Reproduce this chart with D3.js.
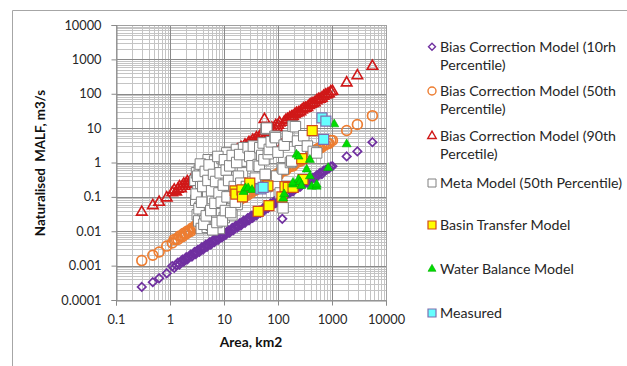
<!DOCTYPE html>
<html><head><meta charset="utf-8">
<script src="https://cdn.jsdelivr.net/npm/d3@7"></script>
<style>body{margin:0;background:#fff}svg{display:block;font-family:Lato,"Open Sans",sans-serif}</style>
</head><body><svg id="c" width="627" height="366"></svg>
<script>
// ---- data ----
const areas = [0.30,0.48,0.63,0.87,
  1.1,1.2,1.3,1.4,1.5,1.6,1.7,1.8,1.9,2.0,
  2.1,2.25,2.4,2.55,2.7,2.85,3.0,3.15,3.3,3.5,
  3.7,3.9,4.1,4.35,4.6,4.85,5.1,5.4,5.7,6.0,
  6.3,6.65,7.0,7.4,7.8,8.25,8.7,9.2,9.7,10.2,
  10.8,11.4,12.0,12.7,13.4,14.2,15.0,15.8,16.7,17.6,
  18.6,19.6,20.7,21.8,23,24.5,26,27.5,29,30.5,
  32,34,36,38,40,42.5,45,47.5,50,53,
  56,59,62,65.5,69,73,77,81,86,91,
  96,101,107,
  120,130,140,150,165,178,190,205,220,240,
  260,280,300,325,350,380,410,445,480,520,
  560,600,650,700,760,820,880,950,1020,
  1870,2950,5600];
const bias10 = [0.00024,0.00033,0.00043,0.00060,
  0.00097,0.00086,0.00104,0.00123,0.00108,0.00128,0.0015,0.0013,0.00152,0.00176,
  0.00151,0.0018,0.0021,0.00184,0.00216,0.0025,0.00216,0.00252,0.0029,0.0025,
  0.003,0.00343,0.00295,0.00348,0.00405,0.0035,0.0041,0.00475,0.0041,0.0048,
  0.00554,0.0048,0.0056,0.0065,0.0056,0.0066,0.0077,0.0066,0.0078,0.009,
  0.0078,0.0091,0.0106,0.0091,0.0107,0.0125,0.0108,0.0126,0.0147,0.0127,
  0.0149,0.0172,0.0149,0.0174,0.0202,0.0176,0.0208,0.0242,0.0209,0.0244,
  0.0282,0.0245,0.0288,0.0334,0.0288,0.034,0.0396,0.0342,0.04,0.0466,
  0.0403,0.0472,0.0546,0.0472,0.0552,0.0642,0.0554,0.0648,0.0757,0.0655,
  0.0768,0.0889,0.077,
  0.023,0.1,0.115,0.125,0.13,0.15,0.145,0.17,0.18,0.19,
  0.2,0.23,0.25,0.26,0.26,0.31,0.32,0.36,0.36,0.42,
  0.42,0.5,0.46,0.58,0.6,0.64,0.68,0.76,0.78,
  1.5,2.1,3.9];
const bias50 = [0.0014,0.0020,0.0025,0.0037,
  0.00455,0.0058,0.00585,0.0058,0.0073,0.0072,0.0070,0.00875,0.00855,0.0083,
  0.0102,0.0101,0.0099,0.0124,0.0122,0.0118,0.0146,0.0142,0.0137,0.017,
  0.0167,0.0161,0.0199,0.0196,0.019,0.0235,0.023,0.0224,0.0277,0.027,
  0.0261,0.0323,0.0315,0.0306,0.0379,0.0371,0.036,0.0447,0.0437,0.0422,
  0.0525,0.0513,0.0497,0.0617,0.0603,0.0588,0.0729,0.0711,0.0691,0.0855,
  0.0837,0.0811,0.1006,0.0981,0.0952,0.119,0.117,0.114,0.141,0.137,
  0.132,0.165,0.162,0.157,0.194,0.191,0.186,0.231,0.225,0.219,
  0.272,0.2655,0.257,0.319,0.31,0.302,0.374,0.364,0.356,0.443,
  0.432,0.418,0.52,
  0.56,0.6,0.6,0.7,0.78,0.78,0.8,0.95,1.0,1.05,
  1.1,1.3,1.4,1.45,1.5,1.75,1.9,1.95,2.0,2.4,
  2.6,2.6,2.8,3.2,3.3,3.6,3.6,4.4,4.4,
  8.5,12.7,23];
const bias90 = [0.036,0.056,0.070,0.094,
  0.132,0.158,0.14,0.168,0.198,0.173,0.204,0.238,0.205,0.24,
  0.277,0.243,0.288,0.337,0.292,0.342,0.396,0.34,0.396,0.462,
  0.4,0.468,0.541,0.47,0.552,0.64,0.551,0.648,0.752,0.648,
  0.756,0.878,0.756,0.888,1.03,0.891,1.044,1.214,1.048,1.224,
  1.426,1.231,1.44,1.676,1.447,1.704,1.98,1.706,2.004,2.323,
  2.009,2.352,2.732,2.354,2.76,3.234,2.808,3.3,3.828,3.294,
  3.84,4.488,3.888,4.56,5.28,4.59,5.4,6.27,5.4,6.36,
  18,6.37,7.44,8.65,7.45,8.76,10.16,8.75,10.32,12.0,
  10.37,12.12,14.1,
  3.3,15,17,18,20,21,22,25,27,28,
  30,34,37,38,40,46,50,52,55,63,
  68,70,75,85,92,96,100,115,118,
  208,336,630];
const metaArea = [2.9,3.0,3.1,3.2,3.3,3.4,3.5,3.6,3.7,3.8,3.9,4.0,4.1,4.2,4.3,4.4,4.5,4.6,4.8,4.9,
  5.0,5.1,5.2,5.4,5.5,5.6,5.8,6.0,6.1,6.3,6.5,6.7,6.9,7.1,7.3,7.5,7.8,8.0,8.2,8.4,
  8.7,9.0,9.2,9.5,9.8,10.1,10.4,10.8,11.2,11.6,12.0,12.5,13.0,13.5,14.0,14.5,15.0,16.0,16.5,17.0,
  17.5,18.0,19.0,20.0,21,22,23,
  3.05,3.25,3.45,3.65,3.85,4.05,4.25,4.5,4.7,5.05,5.3,5.7,5.9,6.2,6.4,6.8,7.0,7.4,7.7,8.1,
  8.5,8.9,9.3,9.7,10.2,10.6,11.0,11.4,12.2,12.8,13.3,14.2,15.5,16.2,17.2,18.5,19.5,20.5,
  26,28,30,33,35,38,43,45,46,50,53,55,58,60,62,62,66,69,75,88,
  88,90,94,100,110,120,124,125,130,150,170,180,190,210,230,260,300,350,450,520];
const metaValue = [0.3,0.08,0.5,0.03,0.15,0.02,0.6,0.05,0.25,0.012,0.1,0.4,0.04,0.7,0.18,0.02,0.07,0.35,0.9,0.013,
  0.12,1.2,0.03,0.5,0.22,0.06,0.015,0.8,0.09,0.3,0.035,1.1,0.15,0.02,0.55,0.06,0.25,1.0,0.012,0.11,
  0.4,0.04,1.3,0.18,0.7,0.025,0.08,0.35,1.9,0.14,0.05,0.6,0.22,1.0,0.03,0.09,0.45,1.4,0.16,2.4,
  0.06,0.75,0.3,0.12,1.1,0.5,2.7,
  0.12,0.4,0.045,0.9,0.07,0.2,0.016,0.55,0.028,0.3,0.85,0.04,0.15,0.011,0.45,0.065,0.28,0.018,1.5,0.13,
  0.5,0.07,0.02,0.22,1.2,0.04,0.6,0.1,0.3,0.8,0.035,1.6,0.2,0.07,1.0,0.4,1.7,0.25,
  0.2,2.7,1.5,0.8,3.0,0.35,0.87,0.78,2.7,1.6,3.7,1.2,0.45,9.5,0.2,10,1.8,2.4,4.0,5.8,
  0.23,5.3,0.4,2.0,0.13,0.7,0.048,0.65,3.2,5.8,1.0,1.1,11.4,11,4.2,2.2,6.0,3.0,2.1,1.9];
const basinArea = [16,16.6,21.5,22,30,43,65,68,118,135,155,190,275,290,430];
const basinValue = [0.15,0.12,0.16,0.10,0.25,0.038,0.21,0.056,0.10,0.2,0.19,0.19,1.3,0.32,8.5];
const waterArea = [23,25,28,33,125,130,190,190,220,240,240,255,270,340,390,390,420,520,520,850,1100,1870];
const waterValue = [0.14,0.18,0.18,0.16,0.09,0.12,0.23,0.26,1.7,1.5,0.32,0.27,0.21,0.63,1.2,0.4,0.2,0.2,0.23,0.7,13,3.4];
const measArea = [48,53,650,770,700];
const measValue = [0.17,0.19,20,16,4.7];

const xTicks = [0.1,1,10,100,1000,10000];
const xTickLabels = ["0.1","1","10","100","1000","10000"];
const yTicks = [0.0001,0.001,0.01,0.1,1,10,100,1000,10000];
const yTickLabels = ["0.0001","0.001","0.01","0.1","1","10","100","1000","10000"];
const legendLabels = [["Bias Correction Model (10rh","Percentile)"],["Bias Correction Model (50th","Percentile)"],
  ["Bias Correction Model (90th","Percetile)"],["Meta Model (50th Percentile)"],["Basin Transfer Model"],
  ["Water Balance Model"],["Measured"]];
const xTitle = "Area, km2";
const yTitle = "Naturalised  MALF, m3/s";

// ---- drawing ----
const svg = d3.select("#c");
const L=116,R=386,T=25,B=300;
const x = d3.scaleLog().domain([0.1,10000]).range([L,R]);
const y = d3.scaleLog().domain([0.0001,10000]).range([B,T]);

svg.append("path").attr("d","M12.5,366V10.5H627").attr("fill","none").attr("stroke","#a6a6a6");

const isMajor = v => Math.abs(Math.log10(v)-Math.round(Math.log10(v)))<1e-6;
const g = svg.append("g");
const xMinor = x.ticks().filter(v=>!isMajor(v));
const yMinor = y.ticks().filter(v=>!isMajor(v));
g.selectAll(".xm").data(xMinor).join("line").attr("x1",d=>Math.round(x(d))+0.5).attr("x2",d=>Math.round(x(d))+0.5)
  .attr("y1",T).attr("y2",B).attr("stroke","#c4c4c4");
g.selectAll(".ym").data(yMinor).join("line").attr("y1",d=>Math.round(y(d))+0.5).attr("y2",d=>Math.round(y(d))+0.5)
  .attr("x1",L).attr("x2",R).attr("stroke","#c4c4c4");
g.selectAll(".xM").data(xTicks).join("line").attr("x1",d=>Math.round(x(d))+0.5).attr("x2",d=>Math.round(x(d))+0.5)
  .attr("y1",T).attr("y2",B).attr("stroke","#8a8a8a");
g.selectAll(".yM").data(yTicks).join("line").attr("y1",d=>Math.round(y(d))+0.5).attr("y2",d=>Math.round(y(d))+0.5)
  .attr("x1",L).attr("x2",R).attr("stroke","#8a8a8a");
svg.append("rect").attr("x",L+0.5).attr("y",T+0.5).attr("width",R-L).attr("height",B-T).attr("fill","none").attr("stroke","#a0a0a0");

const ax = svg.append("g").attr("transform",`translate(0,${B+0.5})`)
  .call(d3.axisBottom(x).tickValues(xTicks).tickFormat((d,i)=>xTickLabels[i]).tickSize(5).tickPadding(9));
const ay = svg.append("g").attr("transform",`translate(${L+0.5},0)`)
  .call(d3.axisLeft(y).tickValues(yTicks).tickFormat((d,i)=>yTickLabels[i]).tickSize(5).tickPadding(10));
[ax,ay].forEach(a=>{a.select(".domain").attr("stroke","#8a8a8a");a.selectAll(".tick line").attr("stroke","#8a8a8a");
  a.selectAll("text").attr("font-size","12.8px").attr("fill","#262626").attr("font-family","Lato");});

const diamond = h=>`M0,${-h}L${h},0L0,${h}L${-h},0Z`;
const tri = w=>`M0,${-0.58*w}L${w/2},${0.29*w}L${-w/2},${0.29*w}Z`;
const sq = s=>`M${-s/2},${-s/2}h${s}v${s}h${-s}Z`;
const circ = r=>`M${r},0A${r},${r} 0 1,1 ${-r},0A${r},${r} 0 1,1 ${r},0Z`;

const series = [
  {xs:areas, ys:bias10, path:diamond(4.2), fill:"none", stroke:"#7030A0", sw:1.7, lp:diamond(3.5)},
  {xs:areas, ys:bias50, path:circ(4.9), fill:"none", stroke:"#ED7D31", sw:1.7, lp:circ(4)},
  {xs:areas, ys:bias90, path:tri(10.5), fill:"none", stroke:"#D01818", sw:1.6, lp:tri(8.5)},
  {xs:metaArea, ys:metaValue, path:sq(10.5), fill:"#ffffff", stroke:"#808080", sw:1, lp:sq(8)},
  {xs:basinArea, ys:basinValue, path:sq(10), fill:"#ffff00", stroke:"#d04a18", sw:1.2, lp:sq(8)},
  {xs:waterArea, ys:waterValue, path:tri(9), fill:"#00dd00", stroke:"#00b000", sw:0.6, lp:tri(8)},
  {xs:measArea, ys:measValue, path:sq(10), fill:"#66ffff", stroke:"#7f6fb0", sw:1.2, lp:sq(8)}
];
const plot = svg.append("g");
series.forEach(s=>{
  plot.append("g").selectAll("path").data(s.xs.map((a,i)=>[a,s.ys[i]])).join("path")
    .attr("transform",d=>`translate(${x(d[0])},${y(d[1])})`).attr("d",s.path)
    .attr("fill",s.fill).attr("stroke",s.stroke).attr("stroke-width",s.sw);
});

svg.append("text").attr("x",251).attr("y",347).attr("text-anchor","middle").attr("font-weight","bold")
  .attr("font-size","13.8px").attr("fill","#111").text(xTitle);
svg.append("text").attr("transform","translate(45,163) rotate(-90)").attr("text-anchor","middle").attr("font-weight","bold")
  .attr("font-size","13.3px").attr("fill","#111").style("white-space","pre").text(yTitle);

const legY = [[46.7,65],[91,109],[136,154],[183],[225],[269],[313]];
const lg = svg.append("g");
legendLabels.forEach((lines,i)=>{
  const s = series[i];
  lg.append("path").attr("transform",`translate(432,${legY[i][0]})`).attr("d",s.lp)
    .attr("fill",s.fill).attr("stroke",s.stroke).attr("stroke-width",Math.min(s.sw,1.4));
  lines.forEach((t,j)=>{
    lg.append("text").attr("x",440).attr("y",legY[i][j]+5).attr("font-size","14.2px").attr("fill","#262626").text(t);
  });
});
</script></body></html>
